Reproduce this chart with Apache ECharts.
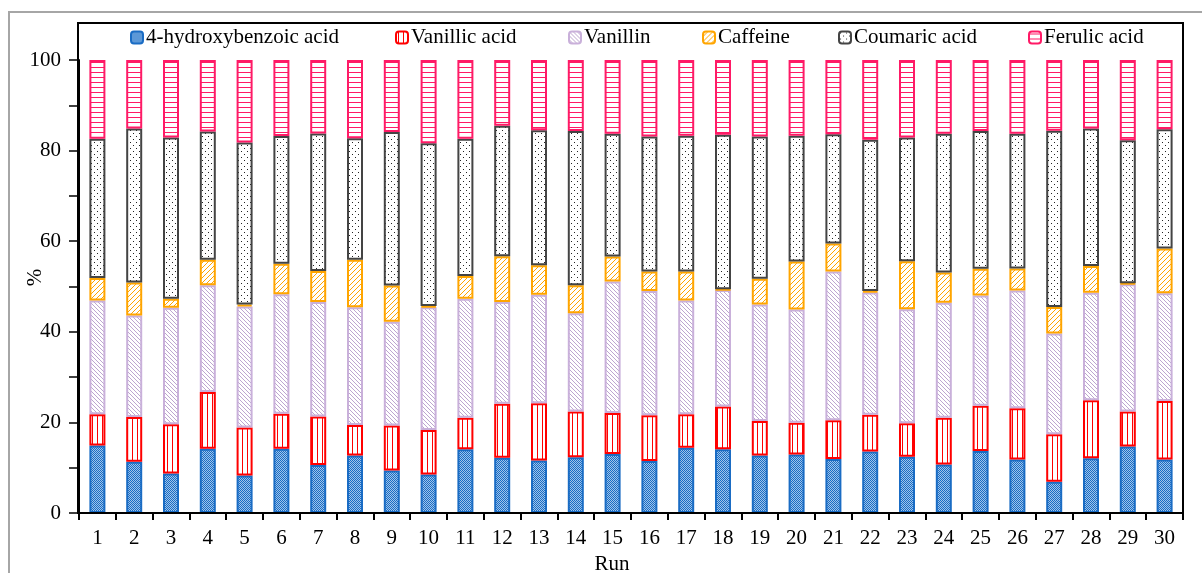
<!DOCTYPE html>
<html>
<head>
<meta charset="utf-8">
<script src="https://cdn.jsdelivr.net/npm/echarts@6/dist/echarts.min.js"></script>
<style>
html,body{margin:0;padding:0;background:#fff;overflow:hidden;}
#chart{width:1202px;height:573px;}
</style>
</head>
<body>
<div id="chart"></div>
<script>
const runs = ['1','2','3','4','5','6','7','8','9','10','11','12','13','14','15','16','17','18','19','20','21','22','23','24','25','26','27','28','29','30'];
const hydroxybenzoic = [14.9,11.3,8.7,14.2,8.3,14.2,10.6,12.7,9.4,8.5,14.1,12.2,11.6,12.3,13.0,11.5,14.4,14.1,12.7,12.9,11.9,13.6,12.4,10.7,13.7,11.8,6.9,12.1,14.7,11.8];
const vanillicAcid = [6.9,9.9,10.9,12.5,10.6,7.7,10.7,6.7,9.9,9.8,6.9,11.9,12.6,10.1,9.1,10.1,7.4,9.4,7.6,7.0,8.6,8.1,7.4,10.3,10.0,11.3,10.5,12.8,7.7,12.9];
const vanillin = [25.1,22.4,25.7,23.6,26.7,26.4,25.3,26.0,22.9,27.1,26.3,22.5,24.0,21.7,29.0,27.4,25.1,25.7,25.7,25.0,32.8,27.0,25.2,25.4,24.3,26.0,22.2,23.7,28.1,23.8];
const caffeine = [5.0,7.3,2.0,5.6,0.4,6.7,6.8,10.5,8.0,0.3,5.0,10.1,6.5,6.2,5.5,4.3,6.4,0.2,5.7,10.6,6.2,0.3,10.6,6.7,5.9,4.9,5.9,5.9,0.2,9.9];
const coumaricAcid = [30.7,34.0,35.6,28.3,35.8,28.2,30.4,26.8,33.9,35.9,30.3,28.8,29.8,34.0,27.1,29.8,30.0,34.1,31.4,27.8,24.1,33.4,27.3,30.6,30.4,29.7,38.9,30.4,31.6,26.3];
const ferulicAcid = [17.4,15.1,17.1,15.8,18.2,16.8,16.2,17.3,15.9,18.4,17.4,14.5,15.5,15.7,16.3,16.9,16.7,16.5,16.9,16.7,16.4,17.6,17.1,16.3,15.7,16.3,15.6,15.1,17.7,15.3];
const seriesNames = ['4-hydroxybenzoic acid','Vanillic acid','Vanillin','Caffeine','Coumaric acid','Ferulic acid'];

function pattern(w, h, draw) {
  const c = document.createElement('canvas');
  c.width = w; c.height = h;
  const ctx = c.getContext('2d');
  draw(ctx);
  return { image: c, repeat: 'repeat' };
}
const patHB = pattern(2, 2, ctx => {
  ctx.fillStyle = '#9fc4ea'; ctx.fillRect(0,0,2,2);
  ctx.fillStyle = '#1a6cc4'; ctx.fillRect(0,0,1,1); ctx.fillRect(1,1,1,1);
});
const patVA = pattern(5, 1, ctx => {
  ctx.fillStyle = '#ffffff'; ctx.fillRect(0,0,5,1);
  ctx.fillStyle = '#ff0000'; ctx.fillRect(2,0,1,1);
});
const patVN = pattern(4, 4, ctx => {
  ctx.fillStyle = '#ffffff'; ctx.fillRect(0,0,4,4);
  ctx.fillStyle = '#bda6d0';
  for (let i = 0; i < 4; i++) ctx.fillRect(i, i, 1, 1);
});
const patCA = pattern(5, 5, ctx => {
  ctx.fillStyle = '#ffffff'; ctx.fillRect(0,0,5,5);
  ctx.fillStyle = '#ffa500';
  for (let i = 0; i < 5; i++) ctx.fillRect(4 - i, i, 1, 1);
});
const patCO = pattern(6, 6, ctx => {
  ctx.fillStyle = '#ffffff'; ctx.fillRect(0,0,6,6);
  ctx.fillStyle = '#222222';
  ctx.fillRect(1,1,1,1); ctx.fillRect(4,4,1,1);
});
const patFE = pattern(1, 5, ctx => {
  ctx.fillStyle = '#ffffff'; ctx.fillRect(0,0,1,5);
  ctx.fillStyle = '#ff1a66'; ctx.fillRect(0,2,1,1);
});

const styles = [
  { fill: patHB, border: '#1a6cc4', bw: 2 },
  { fill: patVA, border: '#ff0000', bw: 2 },
  { fill: patVN, border: '#c9b0da', bw: 2 },
  { fill: patCA, border: '#ffa500', bw: 2 },
  { fill: patCO, border: '#444444', bw: 2 },
  { fill: patFE, border: '#ff1a66', bw: 2 }
];
const values = [hydroxybenzoic, vanillicAcid, vanillin, caffeine, coumaricAcid, ferulicAcid];
const legendLeft = [125, 390, 563, 697, 833, 1023];
const FONT = 'Liberation Serif';

const chart = echarts.init(document.getElementById('chart'), null, { renderer: 'canvas', width: 1202, height: 573 });
chart.setOption({
  animation: false,
  backgroundColor: '#ffffff',
  textStyle: { fontFamily: FONT, color: '#000' },
  legend: seriesNames.map((n, i) => ({
    data: [n],
    left: legendLeft[i],
    top: 22,
    itemWidth: 12,
    itemHeight: 12,
    itemGap: 0,
    selectedMode: false,
    textStyle: { fontFamily: FONT, fontSize: 21, color: '#000', padding: [0,0,0,-2] }
  })),
  grid: { left: 79, width: 1104, top: 60, height: 453, containLabel: false, outerBoundsMode: 'none' },
  xAxis: {
    type: 'category',
    data: runs,
    name: 'Run',
    nameLocation: 'middle',
    nameGap: 41,
    nameMoveOverlap: false,
    nameTextStyle: { fontFamily: FONT, fontSize: 21, color: '#000', padding: [0, 38, 0, 0] },
    axisLine: { lineStyle: { color: '#000', width: 2 } },
    axisTick: { show: true, length: 7, lineStyle: { color: '#000', width: 2 } },
    axisLabel: { fontFamily: FONT, fontSize: 21, color: '#000', margin: 15, interval: 0 }
  },
  yAxis: {
    type: 'value',
    min: 0, max: 100, interval: 10,
    name: '%',
    nameLocation: 'middle',
    nameGap: 33,
    nameMoveOverlap: false,
    nameRotate: 90,
    nameTextStyle: { fontFamily: FONT, fontSize: 21, color: '#000', padding: [0, 0, 0, 18] },
    splitLine: { show: false },
    axisLine: { show: true, lineStyle: { color: '#000', width: 2 } },
    axisTick: { show: true, length: 10, lineStyle: { color: '#000', width: 1.5 } },
    axisLabel: {
      fontFamily: FONT, fontSize: 21, color: '#000', margin: 18,
      formatter: v => (v % 20 === 0 ? String(v) : '')
    }
  },
  series: seriesNames.map((n, i) => ({
    name: n,
    type: 'bar',
    stack: 'total',
    barWidth: 16,
    data: values[i],
    itemStyle: { color: styles[i].fill, borderColor: styles[i].border, borderWidth: styles[i].bw }
  })),
  graphic: [
    { type: 'rect', silent: true, z: 100, shape: { x: 78, y: 23, width: 1105, height: 490 },
      style: { fill: 'none', stroke: '#000', lineWidth: 2 } },
    { type: 'polyline', silent: true, z: 100, shape: { points: [[9, 573], [9, 12], [1202, 12]] },
      style: { fill: 'none', stroke: '#a6a6a6', lineWidth: 2 } }
  ]
});
</script>
</body>
</html>
